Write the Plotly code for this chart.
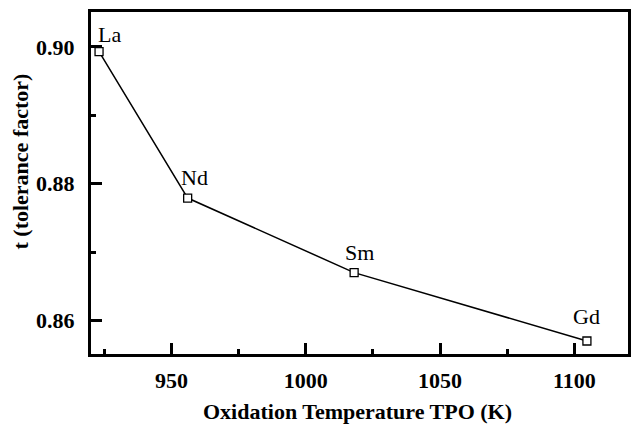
import plotly.graph_objects as go

elements = ["La", "Nd", "Sm", "Gd"]
tpo_k = [923.0, 956.0, 1018.0, 1104.7]
tolerance = [0.8993, 0.8779, 0.8670, 0.8570]
label_shift_x = [10, 7, 5, 0]
label_shift_y = [17, 21, 20, 25]

x_ticks = [950, 1000, 1050, 1100]
y_ticks = [0.86, 0.88, 0.90]
y_tick_text = ["0.86", "0.88", "0.90"]

SERIF = "Times New Roman, Liberation Serif, serif"

fig = go.Figure()
fig.add_trace(go.Scatter(
    x=tpo_k, y=tolerance, mode="lines+markers",
    line=dict(color="black", width=1.5),
    marker=dict(symbol="square", size=8, color="white",
                line=dict(color="black", width=1.3)),
    showlegend=False, hoverinfo="skip",
))

for el, xv, yv, dx, dy in zip(elements, tpo_k, tolerance, label_shift_x, label_shift_y):
    fig.add_annotation(x=xv, y=yv, text=el, showarrow=False,
                       xshift=dx, yshift=dy, xanchor="center", yanchor="middle",
                       font=dict(family=SERIF, size=22, color="black"))

fig.add_annotation(xref="paper", yref="paper", x=0.496, y=-0.168,
                   text="Oxidation Temperature TPO (K)", showarrow=False,
                   xanchor="center", yanchor="middle",
                   font=dict(family=SERIF, size=22, color="black", weight="bold"))
fig.add_annotation(xref="paper", yref="paper", x=-0.1315, y=0.564,
                   text="t (tolerance factor)", showarrow=False, textangle=-90,
                   xanchor="center", yanchor="middle",
                   font=dict(family=SERIF, size=22, color="black", weight="bold"))

fig.update_xaxes(
    range=[920, 1120], tickvals=x_ticks, ticktext=[str(v) for v in x_ticks],
    ticks="inside", ticklen=11, tickwidth=2.5, tickcolor="black",
    minor=dict(dtick=25, tick0=925, ticks="inside", ticklen=5, tickwidth=2.5, tickcolor="black"),
    showline=True, linewidth=3, linecolor="black", mirror=True,
    showgrid=False, zeroline=False,
    tickfont=dict(family=SERIF, size=22, color="black", weight="bold"),
    ticklabelstandoff=5,
)
fig.update_yaxes(
    range=[0.8551, 0.9051], tickvals=y_ticks, ticktext=y_tick_text,
    ticks="inside", ticklen=11, tickwidth=2.5, tickcolor="black",
    minor=dict(dtick=0.01, tick0=0.86, ticks="inside", ticklen=5, tickwidth=2.5, tickcolor="black"),
    showline=True, linewidth=3, linecolor="black", mirror=True,
    showgrid=False, zeroline=False,
    tickfont=dict(family=SERIF, size=22, color="black", weight="bold"),
    ticklabelstandoff=9,
)
fig.update_layout(
    width=632, height=424,
    margin=dict(l=91, r=1, t=12, b=70),
    paper_bgcolor="white", plot_bgcolor="white",
)
fig.write_html("out.html")
